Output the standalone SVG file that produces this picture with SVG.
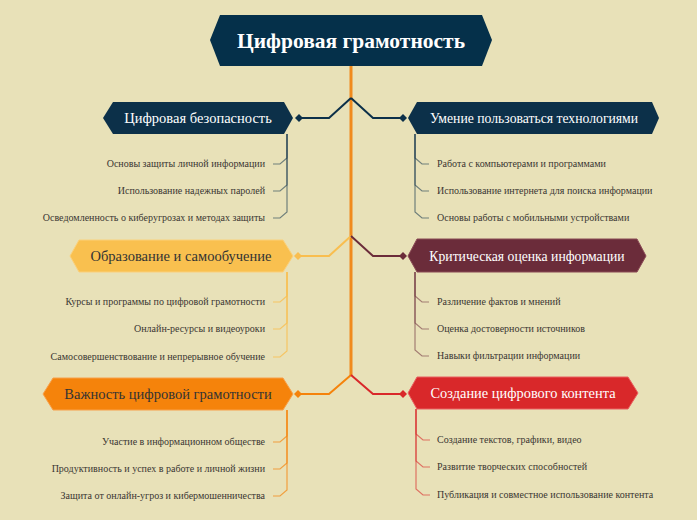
<svg xmlns="http://www.w3.org/2000/svg" width="697" height="520" viewBox="0 0 697 520">
<style>
.bg{fill:#e8e1b8}
.t{font-family:"Liberation Serif","Times New Roman",serif}
.item{font-family:"Liberation Serif","Times New Roman",serif;font-size:10px;fill:#3a3632}
.lt{text-anchor:end}
.edge{fill:none;stroke-width:2;stroke-linejoin:miter}
.sub{fill:none;stroke-width:1.2;stroke-opacity:0.55}
</style>
<rect class="bg" x="0" y="0" width="697" height="520"/>

<g id="connectors">
  <line x1="351" y1="66" x2="351" y2="376" stroke="#f08a1c" stroke-width="3"/>
  <polyline class="edge" stroke="#0c3049" points="351,98 329,118 299,118"/>
  <polyline class="edge" stroke="#0c3049" points="351,98 373,118 403,118"/>
  <polyline class="edge" stroke="#f9be4f" points="351,236 329,256 298,256"/>
  <polyline class="edge" stroke="#6b2c3a" points="351,236 373,256 403,256"/>
  <polyline class="edge" stroke="#f5830b" points="351,375 329,394 298,394"/>
  <polyline class="edge" stroke="#d9282a" points="351,375 373,394 403,394"/>
  <path d="M299,114 L303,118 L299,122 L295,118 Z" fill="#0c3049"/>
  <path d="M403,114 L407,118 L403,122 L399,118 Z" fill="#0c3049"/>
  <path d="M298,252 L302,256 L298,260 L294,256 Z" fill="#f9be4f"/>
  <path d="M403,252 L407,256 L403,260 L399,256 Z" fill="#6b2c3a"/>
  <path d="M298,390 L302,394 L298,398 L294,394 Z" fill="#f5830b"/>
  <path d="M403,390 L407,394 L403,398 L399,394 Z" fill="#d9282a"/>

  <g stroke="#0c3049" class="sub">
    <polyline points="287,134 287,158 280,164 273,164"/>
    <polyline points="287,134 287,185 280,191 273,191"/>
    <polyline points="287,134 287,212 280,218 273,218"/>
  </g>
  <g stroke="#0c3049" class="sub">
    <polyline points="415,134 415,158 422,164 429,164"/>
    <polyline points="415,134 415,185 422,191 429,191"/>
    <polyline points="415,134 415,212 422,218 429,218"/>
  </g>
  <g stroke="#f9be4f" class="sub" style="stroke-opacity:0.8">
    <polyline points="287,272 287,296 280,302 273,302"/>
    <polyline points="287,272 287,323 280,329 273,329"/>
    <polyline points="287,272 287,351 280,357 273,357"/>
  </g>
  <g stroke="#6b2c3a" class="sub">
    <polyline points="415,272 415,296 422,302 429,302"/>
    <polyline points="415,272 415,323 422,329 429,329"/>
    <polyline points="415,272 415,350 422,356 429,356"/>
  </g>
  <g stroke="#f5830b" class="sub" style="stroke-opacity:0.7">
    <polyline points="287,410 287,436 280,442 273,442"/>
    <polyline points="287,410 287,463 280,469 273,469"/>
    <polyline points="287,410 287,490 280,496 273,496"/>
  </g>
  <g stroke="#d9282a" class="sub" style="stroke-opacity:0.6">
    <polyline points="416,409 416,434 423,440 430,440"/>
    <polyline points="416,409 416,461 423,467 430,467"/>
    <polyline points="416,409 416,489 423,495 430,495"/>
  </g>
</g>

<g id="root">
  <path d="M210,40 L220,15 L482,15 L492,40 L482,66 L220,66 Z" fill="#05304a"/>
  <text class="t" x="351" y="48" text-anchor="middle" font-size="21.5" font-weight="bold" fill="#ffffff">Цифровая грамотность</text>
</g>

<g id="n-security">
  <path d="M103,118 L113,102 L284,102 L293,118 L284,134 L113,134 Z" fill="#0c3049"/>
  <text class="t" x="198" y="123" text-anchor="middle" font-size="14.5" fill="#ffffff">Цифровая безопасность</text>
  <text class="item lt" x="265" y="167">Основы защиты личной информации</text>
  <text class="item lt" x="265" y="194">Использование надежных паролей</text>
  <text class="item lt" x="265" y="221">Осведомленность о киберугрозах и методах защиты</text>
</g>

<g id="n-tech">
  <path d="M408,118 L417,102 L652,102 L659,118 L652,134 L417,134 Z" fill="#0c3049"/>
  <text class="t" x="534" y="123" text-anchor="middle" font-size="13.7" fill="#ffffff">Умение пользоваться технологиями</text>
  <text class="item" x="437" y="167">Работа с компьютерами и программами</text>
  <text class="item" x="437" y="194">Использование интернета для поиска информации</text>
  <text class="item" x="437" y="221">Основы работы с мобильными устройствами</text>
</g>

<g id="n-education">
  <path d="M70,256 L79,240 L283,240 L293,256 L283,272 L79,272 Z" fill="#f9c04f" stroke="#fbd07a" stroke-width="1"/>
  <text class="t" x="181" y="261" text-anchor="middle" font-size="14.5" fill="#333333">Образование и самообучение</text>
  <text class="item lt" x="265" y="305">Курсы и программы по цифровой грамотности</text>
  <text class="item lt" x="265" y="332">Онлайн-ресурсы и видеоуроки</text>
  <text class="item lt" x="265" y="360">Самосовершенствование и непрерывное обучение</text>
</g>

<g id="n-critical">
  <path d="M408,256 L417,239 L637,239 L646,256 L637,272 L417,272 Z" fill="#6b2c3a" stroke="#8a4a55" stroke-width="1"/>
  <text class="t" x="527" y="261" text-anchor="middle" font-size="13.7" fill="#ffffff">Критическая оценка информации</text>
  <text class="item" x="437" y="305">Различение фактов и мнений</text>
  <text class="item" x="437" y="332">Оценка достоверности источников</text>
  <text class="item" x="437" y="359">Навыки фильтрации информации</text>
</g>

<g id="n-importance">
  <path d="M43,394 L53,378 L283,378 L293,394 L283,410 L53,410 Z" fill="#f5830b" stroke="#f8a04a" stroke-width="1"/>
  <text class="t" x="168" y="399" text-anchor="middle" font-size="14.5" fill="#333333">Важность цифровой грамотности</text>
  <text class="item lt" x="265" y="445">Участие в информационном обществе</text>
  <text class="item lt" x="265" y="472">Продуктивность и успех в работе и личной жизни</text>
  <text class="item lt" x="265" y="499">Защита от онлайн-угроз и кибермошенничества</text>
</g>

<g id="n-content">
  <path d="M408,393 L417,377 L628,377 L638,393 L628,409 L417,409 Z" fill="#d9282a" stroke="#e86060" stroke-width="1"/>
  <text class="t" x="523" y="398" text-anchor="middle" font-size="14.4" fill="#ffffff">Создание цифрового контента</text>
  <text class="item" x="437" y="443">Создание текстов, графики, видео</text>
  <text class="item" x="437" y="470">Развитие творческих способностей</text>
  <text class="item" x="437" y="498">Публикация и совместное использование контента</text>
</g>
</svg>
